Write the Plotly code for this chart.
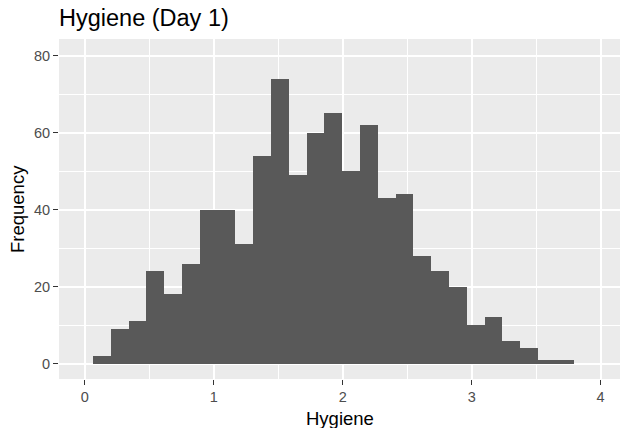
import plotly.graph_objects as go

# Histogram of Hygiene scores (Day 1)
bin_start = 0.064
bin_width = 0.138
counts = [2, 9, 11, 24, 18, 26, 40, 40, 31, 54, 74, 49, 60, 65, 50,
          62, 43, 44, 28, 24, 20, 10, 12, 6, 4, 1, 1]
x_ticks = [0, 1, 2, 3, 4]
y_ticks = [0, 20, 40, 60, 80]

centers = [bin_start + bin_width * (i + 0.5) for i in range(len(counts))]

fig = go.Figure()
fig.add_trace(go.Bar(
    x=centers, y=counts, width=[bin_width] * len(counts),
    marker=dict(color="#595959", line=dict(width=0)),
    hoverinfo="x+y",
))

font_family = "Liberation Sans, Arial, sans-serif"
fig.update_layout(
    width=620, height=428,
    margin=dict(l=59, r=0, t=39, b=49, pad=0),
    paper_bgcolor="white",
    plot_bgcolor="#EBEBEB",
    bargap=0,
    showlegend=False,
    font=dict(family=font_family, color="black"),
    title=dict(text="Hygiene (Day 1)", font=dict(size=23.5, color="black", family=font_family),
               x=59 / 620, xref="container", xanchor="left",
               y=1 - 18 / 428, yref="container", yanchor="middle"),
    xaxis=dict(
        range=[-0.199, 4.15], tickvals=x_ticks, ticktext=[str(v) for v in x_ticks],
        automargin=False,
        showgrid=True, gridcolor="white", gridwidth=1.8,
        minor=dict(dtick=0.5, tick0=0, showgrid=True, gridcolor="white", gridwidth=0.9, ticks=""),
        zeroline=False, showline=False,
        ticks="outside", ticklen=5, tickwidth=1.3, tickcolor="#333333",
        tickfont=dict(size=14.5, color="#4D4D4D", family=font_family),
    ),
    yaxis=dict(
        range=[-3.97, 84.3], tickvals=y_ticks, ticktext=[str(v) for v in y_ticks],
        automargin=False,
        showgrid=True, gridcolor="white", gridwidth=1.8,
        minor=dict(dtick=10, tick0=0, showgrid=True, gridcolor="white", gridwidth=0.9, ticks=""),
        zeroline=False, showline=False,
        ticks="outside", ticklen=5, tickwidth=1.3, tickcolor="#333333",
        tickfont=dict(size=14.5, color="#4D4D4D", family=font_family),
    ),
    annotations=[
        dict(text="Hygiene", xref="paper", yref="paper", x=0.5, y=0,
             showarrow=False, font=dict(size=18.5, color="black", family=font_family),
             xanchor="center", yanchor="middle", yshift=-(418 - 379)),
        dict(text="Frequency", xref="paper", yref="paper", x=0, y=0.5,
             showarrow=False, font=dict(size=18.5, color="black", family=font_family),
             textangle=-90, xanchor="center", yanchor="middle", xshift=-(59 - 17)),
    ],
)

fig.write_html("out.html", config={"displayModeBar": False},
               post_script="document.body.style.margin='0';")
